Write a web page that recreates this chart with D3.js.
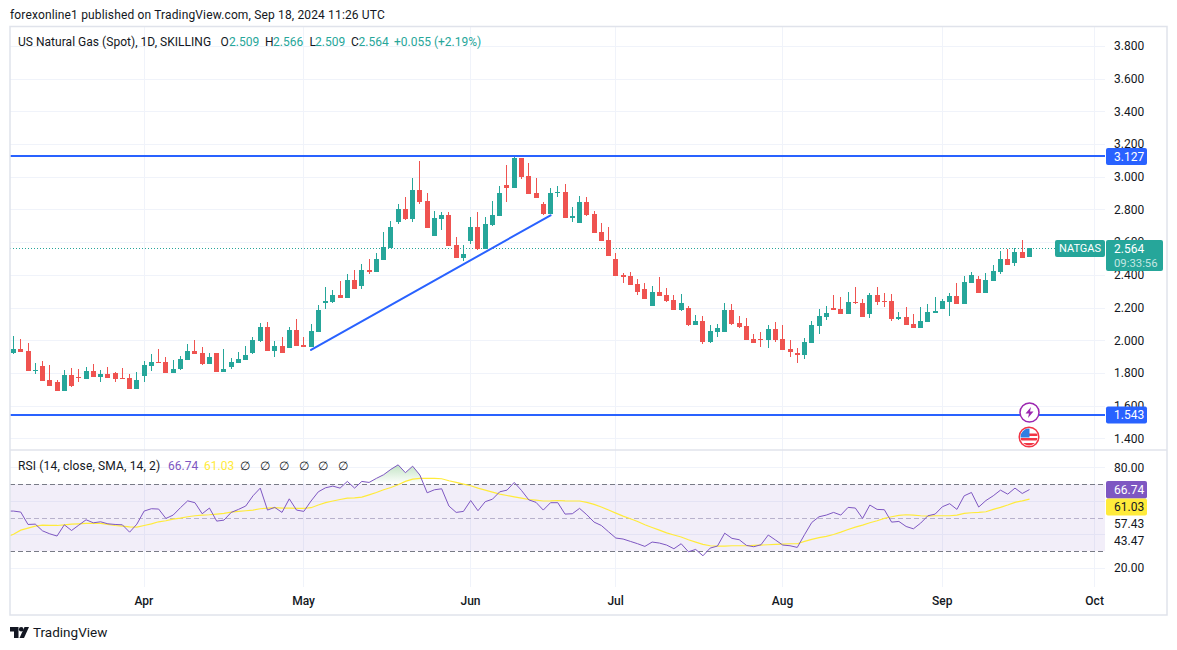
<!DOCTYPE html>
<html>
<head>
<meta charset="utf-8">
<title>US Natural Gas (Spot)</title>
<script src="https://cdn.jsdelivr.net/npm/d3@7"></script>
<style>
html, body { margin: 0; padding: 0; background: #fff; overflow: hidden; }
svg { display: block; }
text { font-family: Roboto, "Noto Sans", sans-serif; font-size: 12px; fill: #131722; }
.domain { display: none; }
</style>
</head>
<body>
<div id="chart"></div>
<script>
// daily bars. bar 0 is Mar 6, bar 140 is Sep 18
const opens = [
  1.924,1.948,1.936,1.814,1.844,1.759,1.747,1.692,1.789,1.777,
  1.765,1.814,1.777,1.795,1.802,1.771,1.771,1.704,1.783,1.844,
  1.869,1.869,1.802,1.826,1.881,1.936,1.924,1.857,1.924,1.808,
  1.838,1.863,1.881,1.924,1.997,2.082,1.936,1.966,1.954,2.064,
  1.973,1.961,2.053,2.225,2.237,2.274,2.256,2.366,2.329,2.427,
  2.415,2.489,2.562,2.722,2.802,2.740,2.918,2.851,2.636,2.740,
  2.765,2.581,2.501,2.605,2.691,2.556,2.703,2.759,2.949,2.930,
  3.115,3.004,2.900,2.832,2.771,2.900,2.906,2.746,2.716,2.845,
  2.771,2.660,2.611,2.494,2.402,2.390,2.347,2.316,2.211,2.297,
  2.279,2.248,2.187,2.199,2.094,2.119,1.990,2.051,2.051,2.187,
  2.107,2.088,2.008,2.008,2.002,2.070,2.008,1.947,1.922,1.910,
  1.984,2.088,2.143,2.198,2.192,2.161,2.235,2.228,2.161,2.277,
  2.241,2.241,2.131,2.143,2.100,2.075,2.112,2.167,2.192,2.235,
  2.271,2.222,2.351,2.375,2.290,2.363,2.418,2.498,2.473,2.541,2.509];
const highs = [
  2.027,2.009,1.985,1.863,1.875,1.850,1.759,1.820,1.832,1.826,
  1.838,1.857,1.820,1.838,1.808,1.832,1.795,1.808,1.875,1.918,
  1.948,1.899,1.881,1.905,1.979,2.003,1.960,1.924,1.924,1.948,
  1.893,1.930,1.966,2.021,2.107,2.113,1.997,2.021,2.082,2.131,
  2.022,2.102,2.213,2.323,2.305,2.360,2.403,2.427,2.464,2.495,
  2.532,2.661,2.728,2.832,2.875,2.992,3.096,2.900,2.789,2.783,
  2.783,2.630,2.581,2.753,2.783,2.753,2.851,2.943,3.072,3.133,
  3.115,3.084,2.992,2.845,2.930,2.943,2.955,2.814,2.881,2.875,
  2.790,2.716,2.691,2.531,2.414,2.420,2.377,2.353,2.334,2.384,
  2.322,2.279,2.285,2.211,2.156,2.150,2.094,2.100,2.230,2.224,
  2.150,2.137,2.039,2.051,2.094,2.113,2.094,2.002,1.953,2.014,
  2.119,2.193,2.210,2.277,2.265,2.296,2.326,2.253,2.290,2.326,
  2.290,2.284,2.173,2.204,2.161,2.204,2.222,2.265,2.253,2.290,
  2.351,2.394,2.418,2.394,2.412,2.461,2.547,2.559,2.565,2.614,2.566];
const lows = [
  1.918,1.930,1.814,1.795,1.753,1.722,1.692,1.692,1.716,1.747,
  1.765,1.777,1.747,1.771,1.747,1.765,1.704,1.704,1.747,1.814,
  1.863,1.802,1.802,1.820,1.881,1.918,1.850,1.857,1.808,1.808,
  1.826,1.863,1.881,1.918,1.991,1.936,1.899,1.924,1.954,1.966,
  1.961,1.961,2.053,2.194,2.225,2.256,2.256,2.311,2.311,2.403,
  2.415,2.489,2.562,2.710,2.734,2.722,2.832,2.685,2.636,2.673,
  2.575,2.501,2.483,2.587,2.550,2.556,2.697,2.759,2.845,2.930,
  2.986,2.894,2.869,2.765,2.771,2.875,2.746,2.722,2.716,2.759,
  2.654,2.605,2.513,2.396,2.353,2.340,2.279,2.254,2.211,2.273,
  2.236,2.187,2.180,2.088,2.094,1.977,1.984,2.021,2.051,2.094,
  2.076,2.002,1.984,1.959,1.953,1.990,1.941,1.897,1.861,1.885,
  1.984,2.039,2.124,2.186,2.161,2.161,2.222,2.143,2.137,2.216,
  2.204,2.118,2.124,2.094,2.075,2.075,2.112,2.167,2.192,2.149,
  2.222,2.222,2.351,2.290,2.290,2.363,2.406,2.461,2.455,2.504,2.509];
const closes = [
  1.948,1.930,1.814,1.820,1.753,1.722,1.692,1.789,1.722,1.771,
  1.814,1.777,1.795,1.771,1.765,1.765,1.704,1.759,1.850,1.869,
  1.863,1.802,1.826,1.887,1.936,1.918,1.857,1.899,1.808,1.826,
  1.869,1.887,1.911,2.003,2.082,1.936,1.966,1.924,2.064,1.966,
  1.961,2.059,2.188,2.243,2.274,2.256,2.366,2.311,2.427,2.415,
  2.495,2.569,2.691,2.802,2.740,2.918,2.845,2.685,2.746,2.765,
  2.575,2.501,2.526,2.691,2.556,2.710,2.765,2.900,2.930,3.115,
  2.998,2.894,2.869,2.771,2.900,2.906,2.746,2.759,2.845,2.765,
  2.654,2.605,2.513,2.396,2.384,2.340,2.297,2.254,2.297,2.273,
  2.242,2.187,2.230,2.094,2.119,1.990,2.057,2.076,2.187,2.100,
  2.082,2.002,1.984,2.002,2.070,2.002,1.941,1.928,1.910,1.990,
  2.094,2.150,2.167,2.186,2.161,2.235,2.228,2.143,2.277,2.235,
  2.235,2.131,2.143,2.094,2.075,2.118,2.173,2.180,2.241,2.271,
  2.222,2.357,2.400,2.290,2.369,2.424,2.498,2.461,2.541,2.504,2.564];

// rsi and its sma start one bar earlier, off the left edge of the pane
const rsiValues = [
  53.9,53.9,53.3,45.9,46.1,42.1,40.3,39.0,45.7,42.3,45.5,
  48.7,46.9,47.5,46.3,45.9,45.7,41.3,46.1,53.9,55.3,
  55.1,49.5,51.5,55.9,60.0,58.9,52.3,55.7,47.9,48.5,
  53.1,54.9,56.9,63.0,67.6,54.5,56.1,53.1,61.2,54.5,
  53.7,59.9,65.4,67.8,68.8,67.6,71.6,67.6,71.6,71.0,
  73.4,75.6,78.8,81.5,76.8,80.7,75.4,64.8,66.6,67.2,
  56.9,53.1,53.7,60.2,54.1,59.5,61.0,65.4,66.4,71.0,
  66.2,60.6,59.1,54.5,58.9,58.9,52.1,52.3,55.5,51.7,
  47.3,45.3,41.5,37.8,37.2,35.8,34.4,32.8,35.4,34.8,
  33.6,31.4,34.4,29.6,31.0,27.2,31.8,33.0,40.7,37.6,
  36.8,33.4,32.6,33.8,39.6,36.6,33.6,33.2,32.2,39.8,
  47.1,50.5,51.5,53.1,51.5,56.1,55.7,49.5,57.5,54.9,
  54.7,47.3,47.7,44.7,43.3,46.7,51.1,52.1,56.5,58.3,
  54.9,63.0,65.0,56.3,60.2,63.0,66.4,64.0,67.6,64.4,66.74];
const smaValues = [
  38.2,40.1,42.5,43.7,44.9,45.5,45.3,45.3,45.7,46.1,46.3,
  46.5,46.5,46.5,45.9,45.3,44.9,44.5,44.3,45.3,46.3,
  47.5,48.1,49.1,49.7,50.5,51.1,51.5,51.7,52.1,52.5,
  53.3,53.7,54.1,54.5,55.3,55.7,55.9,55.7,55.7,55.5,
  55.5,55.9,57.5,58.9,59.9,60.8,61.6,61.8,62.2,63.6,
  65.0,66.6,68.0,69.6,71.6,73.0,73.4,73.4,73.4,73.2,
  72.0,71.0,70.0,69.0,67.6,66.4,65.2,64.0,63.2,62.4,
  61.6,60.8,60.4,59.9,60.0,60.2,60.0,59.9,59.9,59.1,
  57.9,56.3,54.5,52.7,50.9,49.3,47.7,45.7,44.1,42.5,
  40.9,39.6,38.4,36.8,35.4,34.0,33.2,33.0,33.0,33.2,
  33.2,33.2,33.4,33.6,33.8,34.0,34.2,34.4,34.4,35.8,
  37.0,38.0,38.8,39.9,41.3,42.9,44.3,45.5,46.9,48.1,
  49.5,50.5,51.3,51.7,51.5,51.1,50.9,51.1,51.1,51.1,
  51.5,52.5,52.9,53.1,53.5,54.9,56.1,57.5,59.1,60.0,61.03];

const priceTicks = [3.8,3.6,3.4,3.2,3.0,2.8,2.6,2.4,2.2,2.0,1.8,1.6,1.4];
const rsiTicks = [80,60,40,20];
const rsiAxisTicks = [80,20];
const monthBars = [18,40,63,83,106,128,149];
const monthLabels = ["Apr","May","Jun","Jul","Aug","Sep","Oct"];
const levels = [3.127,1.543];
const lastPrice = 2.564;
const trendBars = [41,74];
const trendPrices = [1.941,2.764];

const up = "#26a69a", down = "#ef5350", blue = "#2962ff", purple = "#7e57c2", yellow = "#ffeb3b";
const gridColor = "#f0f3fa", borderColor = "#e0e3eb";
const paneLeft = 10, paneRight = 1105;
const axisX = 1114;

const svg = d3.select("#chart").append("svg").attr("width", 1177).attr("height", 650);

// scales
const x = d3.scaleLinear().domain([0,140]).range([13.5,1029.5]);
const y = d3.scaleLinear().domain([2,3]).range([340.3,176.7]);
const rsiY = d3.scaleLinear().domain([50,70]).range([517.6,484.1]);

const rsiBar = i => i - 1;

const defs = svg.append("defs");
defs.append("clipPath").attr("id","paneClip").append("rect")
  .attr("x",paneLeft).attr("y",451).attr("width",paneRight-paneLeft).attr("height",136);
defs.append("clipPath").attr("id","aboveBand").append("rect")
  .attr("x",paneLeft).attr("y",451).attr("width",paneRight-paneLeft).attr("height",rsiY(70)-451);
const grad = defs.append("linearGradient").attr("id","obFill").attr("gradientUnits","userSpaceOnUse")
  .attr("x1",0).attr("y1",rsiY(82)).attr("x2",0).attr("y2",rsiY(70));
grad.append("stop").attr("offset",0).attr("stop-color","#4caf50").attr("stop-opacity",0.35);
grad.append("stop").attr("offset",1).attr("stop-color","#4caf50").attr("stop-opacity",0);

// grid first
const grid = svg.append("g").attr("shape-rendering","crispEdges").attr("stroke",gridColor);
grid.selectAll("line.h").data(priceTicks).join("line").attr("class","h")
  .attr("x1",paneLeft).attr("x2",paneRight)
  .attr("y1",d => Math.round(y(d))).attr("y2",d => Math.round(y(d)));
grid.selectAll("line.r").data(rsiTicks).join("line").attr("class","r")
  .attr("x1",paneLeft).attr("x2",paneRight)
  .attr("y1",d => Math.round(rsiY(d))).attr("y2",d => Math.round(rsiY(d)));
grid.selectAll("line.v").data(monthBars).join("line").attr("class","v")
  .attr("x1",d => Math.floor(x(d))).attr("x2",d => Math.floor(x(d)))
  .attr("y1",27).attr("y2",587);

// rsi band
svg.append("rect").attr("x",paneLeft).attr("width",paneRight-paneLeft)
  .attr("y",rsiY(70)).attr("height",rsiY(30)-rsiY(70))
  .attr("fill",purple).attr("fill-opacity",0.1);
[[70,"#787b86"],[50,"#b8b2cc"],[30,"#787b86"]].forEach(function(b){
  svg.append("line").attr("x1",paneLeft).attr("x2",paneRight)
    .attr("y1",Math.round(rsiY(b[0]))+0.5).attr("y2",Math.round(rsiY(b[0]))+0.5)
    .attr("stroke",b[1]).attr("stroke-dasharray","5,3");
});

// overbought fill, then the two rsi lines
const rsiArea = d3.area().x((d,i) => x(rsiBar(i))).y0(rsiY(70)).y1(d => rsiY(d));
svg.append("path").datum(rsiValues).attr("d",rsiArea)
  .attr("fill","url(#obFill)").attr("clip-path","url(#aboveBand)");
const rsiLine = d3.line().x((d,i) => x(rsiBar(i))).y(d => rsiY(d));
const rsiG = svg.append("g").attr("clip-path","url(#paneClip)").attr("fill","none");
rsiG.append("path").datum(smaValues).attr("d",rsiLine).attr("stroke",yellow).attr("stroke-width",1.2);
rsiG.append("path").datum(rsiValues).attr("d",rsiLine).attr("stroke",purple).attr("stroke-width",1);

// last price dotted line
svg.append("line").attr("x1",paneLeft).attr("x2",paneRight)
  .attr("y1",Math.round(y(lastPrice))+0.5).attr("y2",Math.round(y(lastPrice))+0.5)
  .attr("stroke",up).attr("stroke-dasharray","1,2");

// candles
const candles = svg.append("g").attr("shape-rendering","crispEdges");
const left = i => Math.round(x(i)-2.5);
const colour = i => closes[i] >= opens[i] ? up : down;
candles.selectAll("rect.wick").data(d3.range(opens.length)).join("rect").attr("class","wick")
  .attr("x",i => left(i)+2).attr("width",1)
  .attr("y",i => Math.round(y(highs[i])))
  .attr("height",i => Math.max(1,Math.round(y(lows[i]))-Math.round(y(highs[i]))))
  .attr("fill",colour);
candles.selectAll("rect.body").data(d3.range(opens.length)).join("rect").attr("class","body")
  .attr("x",left).attr("width",5)
  .attr("y",i => Math.round(y(Math.max(opens[i],closes[i]))))
  .attr("height",i => Math.max(1,Math.round(y(Math.min(opens[i],closes[i])))-Math.round(y(Math.max(opens[i],closes[i])))))
  .attr("fill",colour);

// drawn lines
svg.selectAll("line.level").data(levels).join("line").attr("class","level")
  .attr("x1",paneLeft).attr("x2",paneRight)
  .attr("y1",d => y(d)).attr("y2",d => y(d))
  .attr("stroke",blue).attr("stroke-width",2);
svg.append("line")
  .attr("x1",x(trendBars[0])).attr("y1",y(trendPrices[0]))
  .attr("x2",x(trendBars[1])).attr("y2",y(trendPrices[1]))
  .attr("stroke",blue).attr("stroke-width",2).attr("stroke-linecap","round");

// axes
const priceAxis = d3.axisRight(y).tickValues(priceTicks).tickSize(0).tickPadding(0).tickFormat(d3.format(".3f"));
svg.append("g").attr("transform","translate("+axisX+",0)").call(priceAxis);
const rsiAxis = d3.axisRight(rsiY).tickValues(rsiAxisTicks).tickSize(0).tickPadding(0).tickFormat(d3.format(".2f"));
svg.append("g").attr("transform","translate("+axisX+",0)").call(rsiAxis);
const monthAxis = d3.axisBottom(x).tickValues(monthBars).tickSize(0).tickPadding(0)
  .tickFormat(d => monthLabels[monthBars.indexOf(d)]);
const monthG = svg.append("g").attr("transform","translate(-0.7,596)").call(monthAxis);
svg.selectAll("g.tick text").style("font-family",'Roboto, "Noto Sans", sans-serif').style("font-size","12px").style("fill","#131722");
monthG.selectAll("text").style("font-weight",500);

// the bollinger labels sit pushed away from the two tags
[["57.43",524],["43.47",541]].forEach(function(d){
  svg.append("text").attr("x",axisX).attr("y",d[1]).attr("dy","0.35em").text(d[0]);
});

// tags on the axis
function tag(x0,y0,w,h,fill){
  svg.append("rect").attr("x",x0).attr("y",y0).attr("width",w).attr("height",h).attr("rx",2).attr("fill",fill);
}
function tagText(px,py,txt,fill,size){
  return svg.append("text").attr("x",px).attr("y",py).attr("dy","0.35em").text(txt)
    .style("fill",fill).style("font-size",(size || 12)+"px");
}
tag(1106,y(levels[0])-8,41,17,blue);
tagText(1114,y(levels[0])+0.5,"3.127","#fff");
tag(1106,y(levels[1])-8.5,41,17,blue);
tagText(1114,y(levels[1]),"1.543","#fff");
tag(1055,240,50,17,up);
tagText(1059,248.5,"NATGAS","#fff",11);
tag(1106,240,57,31,up);
tagText(1114,248.5,"2.564","#fff");
tagText(1114,263,"09:33:56","#c3e6e2",11.3);
tag(1106,481,41,17.5,purple);
tagText(1114,489.7,"66.74","#fff");
tag(1106,498.5,41,17,yellow);
tagText(1114,507,"61.03","#131722");

// event markers
const boltG = svg.append("g").attr("transform","translate(1029.5,412.5)");
boltG.append("circle").attr("r",9.5).attr("fill","#fff").attr("stroke","#9c27b0").attr("stroke-width",1.5);
boltG.append("path").attr("d","M1.5,-5.5 L-4,1 L-0.5,1 L-1.5,5.5 L4,-1 L0.5,-1 Z").attr("fill","#9c27b0");
defs.append("clipPath").attr("id","flagClip").append("circle").attr("r",8.5);
const flagG = svg.append("g").attr("transform","translate(1029,437)");
flagG.append("circle").attr("r",9.8).attr("fill","#fff").attr("stroke","#f23645").attr("stroke-width",1.5);
const flag = flagG.append("g").attr("clip-path","url(#flagClip)");
flag.append("rect").attr("x",-9).attr("y",1).attr("width",18).attr("height",2.5).attr("fill","#f23645");
flag.append("rect").attr("x",-9).attr("y",6).attr("width",18).attr("height",3).attr("fill","#f23645");
flag.append("rect").attr("x",0).attr("y",-3.5).attr("width",9).attr("height",2.5).attr("fill","#f23645");
flag.append("rect").attr("x",-9).attr("y",-9).attr("width",9.5).attr("height",9.5).attr("fill","#2f7de1");

// frame
svg.append("rect").attr("x",10).attr("y",26.5).attr("width",1157).attr("height",588.5)
  .attr("fill","none").attr("stroke",borderColor).attr("stroke-width",1.5);
svg.append("line").attr("x1",10).attr("x2",1167).attr("y1",450).attr("y2",450)
  .attr("stroke",borderColor).attr("stroke-width",1.5);

// header and legends
function label(px,py,txt,fill,size){
  const t = svg.append("text").attr("x",px).attr("y",py).attr("dy","0.35em").text(txt);
  if(fill) t.style("fill",fill);
  if(size) t.style("font-size",size+"px");
  return t;
}
label(10,15,"forexonline1 published on TradingView.com, Sep 18, 2024 11:26 UTC").style("letter-spacing","0.15px");
label(18,41.5,"US Natural Gas (Spot), 1D, SKILLING").style("letter-spacing","0.03px");
label(220.5,41.5,"O"); label(229,41.5,"2.509",up);
label(265,41.5,"H"); label(273,41.5,"2.566",up);
label(309.5,41.5,"L"); label(315,41.5,"2.509",up);
label(351,41.5,"C"); label(358.5,41.5,"2.564",up);
label(394,41.5,"+0.055 (+2.19%)",up);
label(18,466,"RSI (14, close, SMA, 14, 2)").style("letter-spacing","0.15px");
label(168,466,"66.74",purple);
label(204,466,"61.03",yellow);
[245,265,284,304,323,343].forEach(function(px){
  label(px,466,"\u2205").attr("text-anchor","middle");
});

// logo
const logo = svg.append("g").attr("transform","translate(10,627)").attr("fill","#131722");
logo.append("path").attr("d","M0,0 H8.5 V11 H4 V4.5 H0 Z");
logo.append("circle").attr("cx",11.2).attr("cy",2.3).attr("r",2.3);
logo.append("path").attr("d","M14.5,0 H19 L14,11 H9.5 Z");
label(33,632.5,"TradingView","#131722",13.5);
</script>
</body>
</html>
